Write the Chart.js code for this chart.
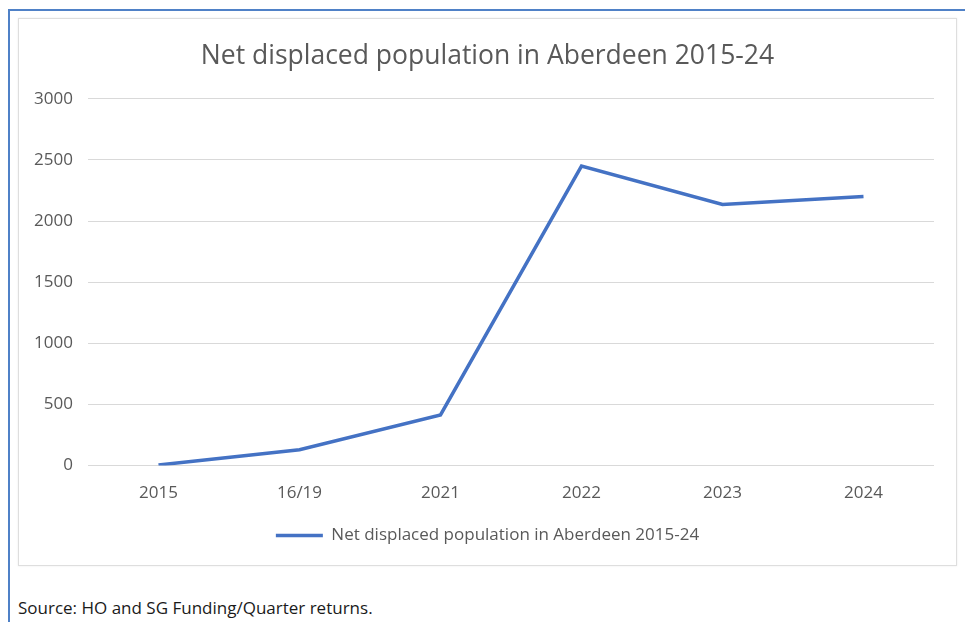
<!DOCTYPE html>
<html>
<head>
<meta charset="utf-8">
<script src="https://cdn.jsdelivr.net/npm/chart.js@4"></script>
<style>
  html, body { margin: 0; padding: 0; background: #fff; }
  body { width: 965px; height: 622px; position: relative; overflow: hidden; }
  .frame {
    position: absolute; left: 8px; top: 9px; width: 970px; height: 640px;
    border-left: 2px solid #4f81c7; border-top: 2px solid #4f81c7;
  }
  .box {
    position: absolute; left: 18px; top: 18px; width: 937px; height: 546px;
    border: 1px solid #dedede; background: #fff;
    box-shadow: 0 0 2px rgba(0, 0, 0, 0.08);
  }
  .box canvas { display: block; }
  .source {
    position: absolute; left: 18px; top: 596px;
    font-family: 'Open Sans', sans-serif; font-size: 17px; color: #1a1a1a;
  }
</style>
</head>
<body>
<div class="frame"></div>
<div class="box"><canvas id="aberdeenChart" width="937" height="546"></canvas></div>
<div class="source">Source: HO and SG Funding/Quarter returns.</div>
<script>
  'use strict';

  var years = ['2015', '16/19', '2021', '2022', '2023', '2024'];
  var displaced = [5, 130, 415, 2450, 2135, 2200];
  var seriesName = 'Net displaced population in Aberdeen 2015-24';

  var ctx = document.getElementById('aberdeenChart');
  var txt = '#595959';
  var font = "'Open Sans', sans-serif";

  new Chart(ctx, {
    type: 'line',
    data: {
      labels: years,
      datasets: [
        {
          label: seriesName,
          data: displaced,
          borderColor: '#4472c4',
          backgroundColor: '#4472c4',
          borderWidth: 3.5,
          pointRadius: 0,
          fill: false,
          tension: 0
        }
      ]
    },
    options: {
      responsive: false,
      animation: false,
      devicePixelRatio: 1,
      layout: { padding: { left: 22, right: 22, top: 10, bottom: 11 } },
      plugins: {
        title: {
          display: true,
          text: seriesName,
          color: txt,
          font: { family: font, size: 26.5, weight: 'normal' },
          padding: { top: 12, bottom: 26 }
        },
        legend: {
          position: 'bottom',
          labels: {
            color: txt,
            font: { family: font, size: 17 },
            usePointStyle: true,
            pointStyle: 'line',
            pointStyleWidth: 47,
            boxHeight: 8,
            padding: 7
          }
        },
        tooltip: { enabled: false }
      },
      scales: {
        x: {
          offset: true,
          grid: { display: false, drawTicks: false },
          border: { display: false },
          ticks: { color: txt, font: { family: font, size: 17 }, padding: 17, maxRotation: 0 }
        },
        y: {
          min: 0,
          max: 3000,
          grid: { color: '#d9d9d9', drawTicks: false },
          border: { display: false },
          afterFit: function (scale) {
            // narrower axis box so title/legend stay centred; let labels spill left
            scale.width = 47;
            scale._computeLabelArea = function () {};
          },
          ticks: {
            stepSize: 500,
            color: txt,
            font: { family: font, size: 17 },
            padding: 15,
            callback: function (v) { return String(v); }
          }
        }
      }
    }
  });
</script>
</body>
</html>
